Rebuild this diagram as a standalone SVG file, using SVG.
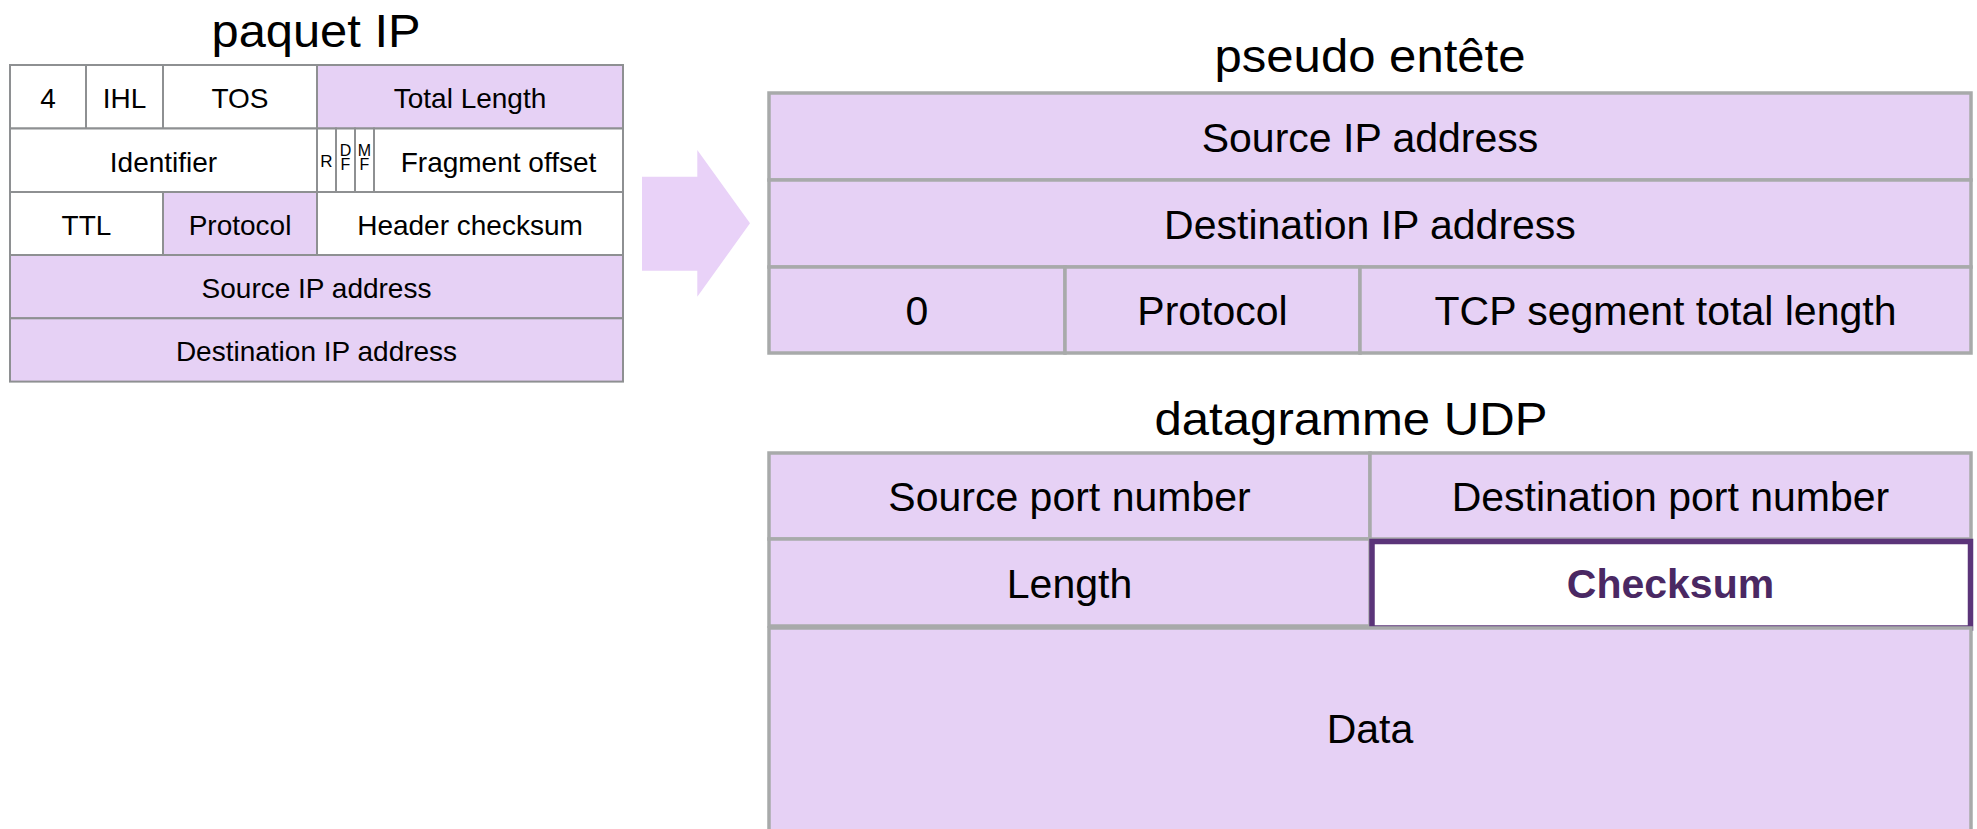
<svg xmlns="http://www.w3.org/2000/svg" width="1977" height="829" viewBox="0 0 1977 829">
<style>
text{font-family:"Liberation Sans",Arial,Helvetica,sans-serif;fill:#000;text-anchor:middle}
.t{font-size:46px}
.s{font-size:28px}
.f{font-size:16px}
.r{font-size:17px}
.m{font-size:41px}
.ck{font-size:41px;font-weight:bold;fill:#4a2863}
.lw{fill:#fff;stroke:#8e9092;stroke-width:2}
.lp{fill:#e6d1f5;stroke:#8e9092;stroke-width:2}
.rp{fill:#e6d1f5;stroke:#a8aaaa;stroke-width:3.5}
.ckb{fill:#fff;stroke:#5b3479;stroke-width:5.5}
.arrow{fill:#e9d2f8}
</style>
<g id="title-ip"><text class="t" x="316" y="47" textLength="209" lengthAdjust="spacingAndGlyphs">paquet IP</text></g>
<g id="ip-version"><rect class="lw" x="10" y="65" width="76" height="63.5"/><text class="s" x="48" y="107.5">4</text></g>
<g id="ip-ihl"><rect class="lw" x="86" y="65" width="77" height="63.5"/><text class="s" x="124.5" y="107.5">IHL</text></g>
<g id="ip-tos"><rect class="lw" x="163" y="65" width="154" height="63.5"/><text class="s" x="240" y="107.5">TOS</text></g>
<g id="ip-total-length"><rect class="lp" x="317" y="65" width="306" height="63.5"/><text class="s" x="470" y="107.5">Total Length</text></g>
<g id="ip-identifier"><rect class="lw" x="10" y="128.5" width="307" height="63.5"/><text class="s" x="163.5" y="171.5">Identifier</text></g>
<g id="ip-flag-r"><rect class="lw" x="317" y="128.5" width="19" height="63.5"/><text class="r" x="326.5" y="167">R</text></g>
<g id="ip-flag-df"><rect class="lw" x="336" y="128.5" width="19" height="63.5"/><text class="f" x="345.5" y="156"><tspan x="345.5" y="156">D</tspan><tspan x="345.5" y="170">F</tspan></text></g>
<g id="ip-flag-mf"><rect class="lw" x="355" y="128.5" width="19" height="63.5"/><text class="f" x="364.5" y="156"><tspan x="364.5" y="156">M</tspan><tspan x="364.5" y="170">F</tspan></text></g>
<g id="ip-fragment-offset"><rect class="lw" x="374" y="128.5" width="249" height="63.5"/><text class="s" x="498.5" y="171.5">Fragment offset</text></g>
<g id="ip-ttl"><rect class="lw" x="10" y="192" width="153" height="63"/><text class="s" x="86.5" y="235">TTL</text></g>
<g id="ip-protocol"><rect class="lp" x="163" y="192" width="154" height="63"/><text class="s" x="240" y="235">Protocol</text></g>
<g id="ip-header-checksum"><rect class="lw" x="317" y="192" width="306" height="63"/><text class="s" x="470" y="235">Header checksum</text></g>
<g id="ip-source"><rect class="lp" x="10" y="255" width="613" height="63.3"/><text class="s" x="316.5" y="298">Source IP address</text></g>
<g id="ip-destination"><rect class="lp" x="10" y="318.3" width="613" height="63.3"/><text class="s" x="316.5" y="361">Destination IP address</text></g>

<g id="connectors"><polygon class="arrow" points="642,176.7 697.3,176.7 697.3,150 750,223.3 697.3,296.7 697.3,270.7 642,270.7"/></g>

<g id="title-pseudo"><text class="t" x="1370" y="72" textLength="311" lengthAdjust="spacingAndGlyphs">pseudo entête</text></g>
<g id="ph-source"><rect class="rp" x="769" y="93" width="1202" height="87"/><text class="m" x="1370" y="151.5">Source IP address</text></g>
<g id="ph-destination"><rect class="rp" x="769" y="180" width="1202" height="87"/><text class="m" x="1370" y="238.5">Destination IP address</text></g>
<g id="ph-zero"><rect class="rp" x="769" y="267" width="296" height="86"/><text class="m" x="917" y="325">0</text></g>
<g id="ph-protocol"><rect class="rp" x="1065" y="267" width="295" height="86"/><text class="m" x="1212.5" y="325">Protocol</text></g>
<g id="ph-tcp-length"><rect class="rp" x="1360" y="267" width="611" height="86"/><text class="m" x="1665.5" y="325">TCP segment total length</text></g>

<g id="title-udp"><text class="t" x="1351" y="435" textLength="393" lengthAdjust="spacingAndGlyphs">datagramme UDP</text></g>
<g id="udp-source-port"><rect class="rp" x="769" y="453" width="601" height="86"/><text class="m" x="1069.5" y="510.5">Source port number</text></g>
<g id="udp-destination-port"><rect class="rp" x="1370" y="453" width="601" height="86"/><text class="m" x="1670.5" y="510.5">Destination port number</text></g>
<g id="udp-length"><rect class="rp" x="769" y="539" width="601" height="87"/><text class="m" x="1069.5" y="597.5">Length</text></g>
<g id="udp-checksum"><rect class="ckb" x="1372" y="541.5" width="598.5" height="86.5"/><text class="ck" x="1670.5" y="598">Checksum</text></g>
<g id="udp-data"><rect class="rp" x="769" y="628" width="1202" height="220"/><text class="m" x="1370" y="743">Data</text></g>
</svg>
